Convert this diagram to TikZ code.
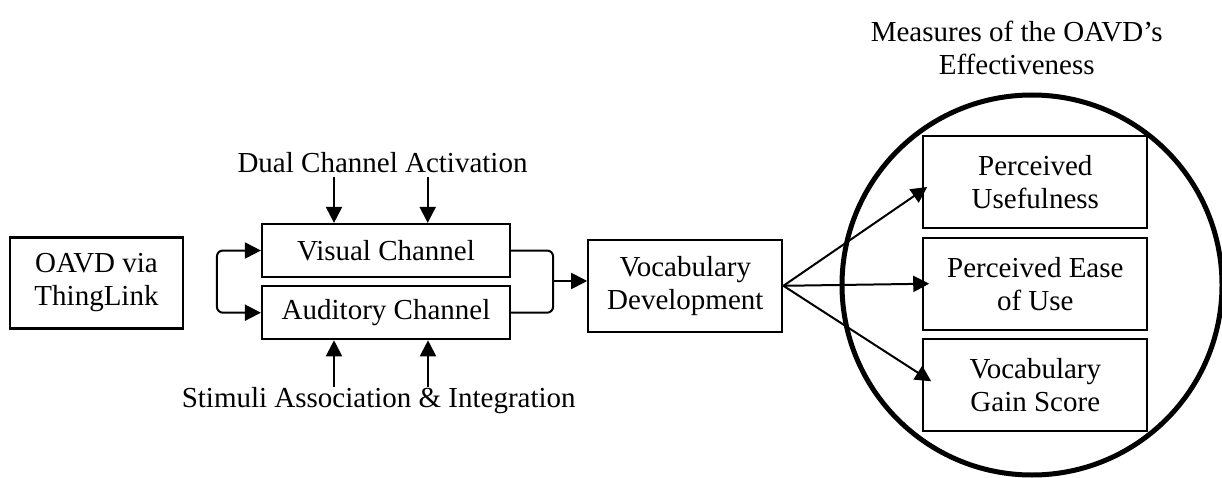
\documentclass[tikz,border=0pt]{standalone}
\usepackage{fontspec}
\setmainfont{Liberation Serif}
\usetikzlibrary{arrows.meta}
\begin{document}
\begin{tikzpicture}[x=1pt,y=-1pt,
  box/.style={draw, line width=2.2pt, inner sep=0pt, align=center, font=\fontsize{29}{33}\selectfont},
  lbl/.style={inner sep=0pt, align=center, font=\fontsize{29}{33}\selectfont},
  tip/.tip={Triangle[length=16pt,width=16pt]},
  arr/.style={line width=2pt, -tip},
  conn/.style={line width=2pt}]
\useasboundingbox (0,0) rectangle (1222,478);
% boxes
\node[box, minimum width=173pt, minimum height=91pt] (oavd) at (96.5,283) {OAVD via\\ThingLink};
\node[box, minimum width=248pt, minimum height=53pt] (vis) at (386,250.5) {Visual Channel};
\node[box, minimum width=248pt, minimum height=53pt] (aud) at (386,312.7) {Auditory Channel};
\node[box, minimum width=194pt, minimum height=92pt] (voc) at (685.3,285.8) {Vocabulary\\Development};
\node[box, minimum width=224pt, minimum height=92pt] (p1) at (1035.3,182) {Perceived\\Usefulness};
\node[box, minimum width=224pt, minimum height=92pt] (p2) at (1035.3,283.7) {Perceived Ease\\of Use};
\node[box, minimum width=224pt, minimum height=92pt] (p3) at (1035.3,385.3) {Vocabulary\\Gain Score};
% circle
\node[draw, circle, line width=5pt, minimum size=380pt, inner sep=0pt] (circ) at (1032,285) {};
% labels
\node[lbl] (dca) at (382.5,163) {Dual Channel Activation};
\node[lbl] (sai) at (378.7,401) {Stimuli Association \& Integration};
\node[lbl] (meas) at (1016.7,48) {Measures of the OAVD’s\\Effectiveness};
% dual channel arrows
\coordinate (d1) at (334,176.7);
\coordinate (d2) at (427.7,176.7);
\draw[arr] (d1) -- (d1 |- vis.north);
\draw[arr] (d2) -- (d2 |- vis.north);
% stimuli arrows
\coordinate (s1) at (334,386.7);
\coordinate (s2) at (428,386.7);
\draw[arr] (s1) -- (s1 |- aud.south);
\draw[arr] (s2) -- (s2 |- aud.south);
% left loop
\draw[conn, tip-tip, rounded corners=6pt]
  (vis.west) -- ++(-44,0) |- (aud.west);
% right bracket
\draw[conn, rounded corners=6pt] (vis.east) -- ++(42,0) |- (aud.east);
\coordinate (brk) at (553,281);
\draw[arr] (brk) -- (brk -| voc.west);
% fan-out arrows
\draw[arr] (voc.east) -- ([xshift=5pt,yshift=-5pt]p1.west);
\draw[arr] (voc.east) -- ([xshift=7pt]p2.west);
\draw[arr] (voc.east) -- ([xshift=9pt,yshift=4pt]p3.west);
\end{tikzpicture}
\end{document}
